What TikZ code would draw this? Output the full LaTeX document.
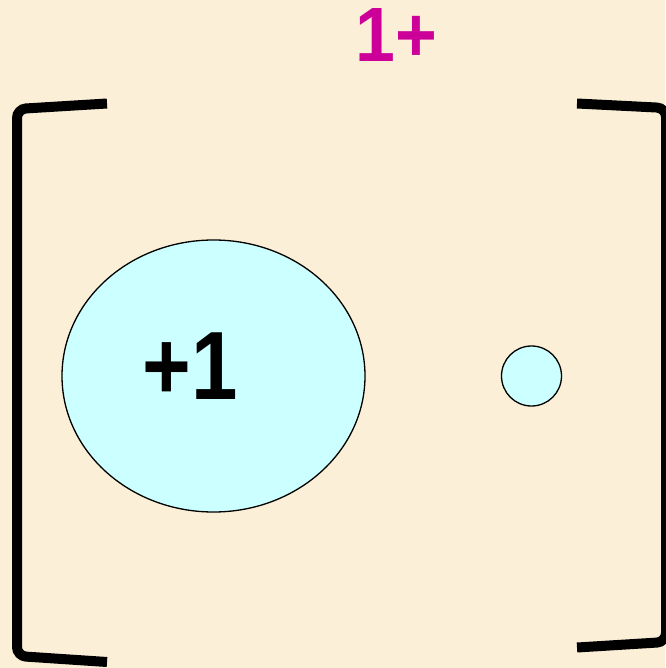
\documentclass[tikz,border=0pt]{standalone}
\usepackage{fontspec}
\setmainfont{Liberation Sans}
\usetikzlibrary{shapes.geometric}
\definecolor{bg}{HTML}{FCEFD7}
\definecolor{aqua}{HTML}{CCFFFF}
\definecolor{mag}{HTML}{CC0099}
\begin{document}
\begin{tikzpicture}[x=1pt,y=-1pt,
  bracket/.style={line width=10pt, line cap=butt, rounded corners=9pt},
  atom/.style={draw=black, line width=1.3pt, fill=aqua}]
\useasboundingbox (0,0) rectangle (665,668);
\fill[bg] (0,0) rectangle (665,668);
% brackets
\draw[bracket] (107,103.5) -- (17,109) -- (17,656) -- (107,662);
\draw[bracket] (577,103.5) -- (666,108) -- (666,642) -- (577,647.5);
% nucleus and electron
\node[atom, ellipse, minimum width=303pt, minimum height=272pt, inner sep=0pt] (nuc) at (213.5,376) {};
\node[atom, circle, minimum size=60pt, inner sep=0pt] (el) at (531.5,376) {};
\node[font=\bfseries\fontsize{97}{97}\selectfont, inner sep=0pt, xscale=0.86] (lab) at (190,366) {+1};
\node[font=\bfseries\fontsize{77}{77}\selectfont, text=mag, inner sep=0pt, xscale=0.93] (chg) at (396.5,35.5) {1+};
\end{tikzpicture}
\end{document}
